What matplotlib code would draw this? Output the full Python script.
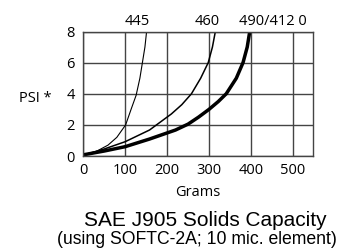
import matplotlib
matplotlib.use("Agg")
import matplotlib.pyplot as plt

plt.rcParams['font.family'] = ['Open Sans', 'DejaVu Sans']

x_ticks = [0, 100, 200, 300, 400, 500]
y_ticks = [0, 2, 4, 6, 8]

g445 = [5, 30, 59, 80, 101, 114, 126, 135, 141, 147, 151]
p445 = [0.1, 0.28, 0.7, 1.2, 2.0, 3.0, 3.9, 5.0, 6.0, 7.0, 8.0]

g460 = [5, 50, 100, 158, 210, 235, 258, 280, 298, 308, 315]
p460 = [0.1, 0.45, 0.92, 1.67, 2.7, 3.3, 4.0, 5.0, 6.0, 7.0, 8.0]

g490 = [5, 50, 100, 158, 220, 250, 275, 300, 322, 341, 365, 381, 391, 397]
p490 = [0.1, 0.32, 0.6, 1.09, 1.67, 2.05, 2.5, 3.0, 3.5, 4.0, 5.0, 6.0, 7.0, 8.0]

labels = ["445", "460", "490/412 0"]
label_x = [128, 295, 452]

fig = plt.figure(figsize=(3.59, 2.5), dpi=100)
ax = fig.add_axes([0.232, 0.376, 0.640, 0.498])
ax.plot(g445, p445, color='black', lw=0.8, solid_joinstyle='round')
ax.plot(g460, p460, color='black', lw=1.1, solid_joinstyle='round')
ax.plot(g490, p490, color='black', lw=2.5, solid_joinstyle='round')
ax.set_xlim(0, 548)
ax.set_ylim(0, 8)
ax.set_xticks(x_ticks)
ax.set_yticks(y_ticks)
ax.grid(True, color='#444444', lw=1.0)
ax.set_axisbelow(True)
for s in ax.spines.values():
    s.set_color('#444444')
    s.set_linewidth(1.0)
ax.tick_params(axis='x', length=0, labelsize=10.5, pad=5)
ax.tick_params(axis='y', length=0, labelsize=10.5, pad=6)
for lab, lx in zip(labels, label_x):
    ax.text(lx, 1.02, lab, transform=ax.get_xaxis_transform(), ha='center', va='bottom', fontsize=10.5)
ax.set_xlabel("Grams", fontsize=10.5, labelpad=5)
fig.text(0.097, 0.605, "PSI *", ha='center', va='center', fontsize=10.5)
fig.text(0.572, 0.12, "SAE J905 Solids Capacity", ha='center', va='center', fontsize=15,
         family=['Liberation Sans', 'DejaVu Sans'])
fig.text(0.549, 0.04, "(using SOFTC-2A; 10 mic. element)", ha='center', va='center', fontsize=12.7,
         family=['Liberation Sans', 'DejaVu Sans'])
fig.savefig("out.png", dpi=100)
